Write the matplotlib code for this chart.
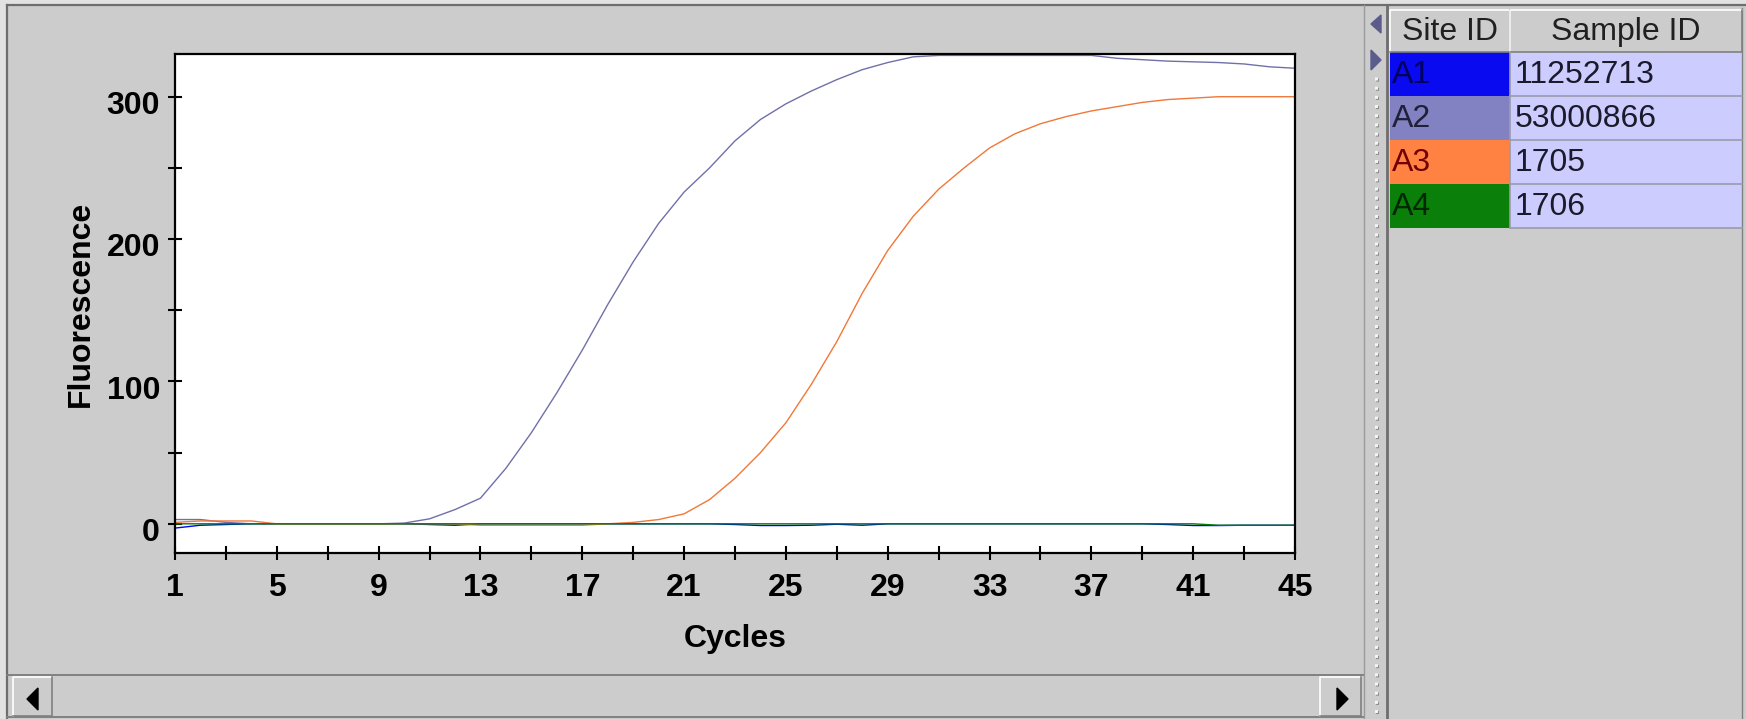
import matplotlib
matplotlib.use("Agg")
import matplotlib.pyplot as plt
import matplotlib.transforms as mtransforms
from matplotlib.patches import Rectangle, Polygon

# data
cycles = list(range(1, 46))
a1_values = [-3, -1, -0.5, 0, 0, 0, 0, 0, 0, 0, -0.5, -1, 0, 0, 0, 0, 0, 0, 0, 0,
             0, 0, -0.5, -1.2, -1.2, -1, -0.3, -1, 0, 0, 0, 0, 0, 0, 0, 0, 0, 0, 0,
             -0.5, -1.2, -1.2, -1, -1, -1]
a2_values = [3, 3, 1, 0, 0, 0, 0, 0, 0, 0.5, 3.5, 10, 18, 39, 64, 92, 122, 154, 184, 211,
             233, 250, 269, 284, 295, 304, 312, 319, 324, 328, 329, 329, 329, 329, 329,
             329, 329, 327, 326, 325, 324.5, 324, 323, 321, 320]
a3_values = [1, 2, 2, 2, 0, 0, 0, 0, 0, 0, 0, 0, -1, -1, -1, -1, -1, 0, 1, 3,
             7, 17, 32, 50, 71, 98, 128, 162, 192, 216, 235, 250, 264, 274, 281, 286,
             290, 293, 296, 298, 299, 300, 300, 300, 300]
a4_values = [0] * 41 + [-1, -1, -1, -1]

site_ids = ["A1", "A2", "A3", "A4"]
sample_ids = ["11252713", "53000866", "1705", "1706"]
site_colors = ["#0a0af0", "#8282c2", "#ff8242", "#0a800a"]
site_text_colors = ["#000060", "#20203a", "#700000", "#002800"]
line_colors = ["#0000ff", "#7070a8", "#f07838", "#008000"]

x_ticks = list(range(1, 46, 4))
x_minor = list(range(1, 46, 2))
y_ticks = [0, 100, 200, 300]
y_minor = [50, 150, 250]

W, H = 1746, 719
GRAY = "#cccccc"
DARK = "#808080"

plt.rcParams['font.family'] = ['Liberation Sans', 'DejaVu Sans']

fig = plt.figure(figsize=(W / 100, H / 100), dpi=100)
fig.patch.set_facecolor(GRAY)

# window chrome, drawn in pixel coordinates
bg = fig.add_axes([0, 0, 1, 1], zorder=0)
bg.set_xlim(0, W)
bg.set_ylim(H, 0)
bg.axis('off')


def raised(x0, y0, x1, y1, face=GRAY):
    bg.add_patch(Rectangle((x0, y0), x1 - x0, y1 - y0, facecolor=face, edgecolor='none'))
    bg.plot([x0, x0, x1], [y1, y0, y0], color='white', lw=1.2)
    bg.plot([x0, x1, x1], [y1, y1, y0], color=DARK, lw=1.2)


# light edge outside the panels
bg.add_patch(Rectangle((0, 0), W, 4, facecolor='#e2e2e2', edgecolor='none'))
bg.add_patch(Rectangle((0, 0), 6, H, facecolor='#e2e2e2', edgecolor='none'))
bg.plot([7, W], [5, 5], color='#6e6e6e', lw=1.6)
bg.plot([7, 7], [5, H], color='#6e6e6e', lw=1.6)

# horizontal scrollbar
bg.plot([7, 1364], [675, 675], color=DARK, lw=1.4)
bg.plot([7, 1364], [717, 717], color=DARK, lw=1.4)
raised(13, 677, 52, 716)
bg.add_patch(Polygon([(27, 699), (38, 688), (38, 710)], closed=True, color='black'))
raised(1320, 677, 1361, 716)
bg.add_patch(Polygon([(1348, 699), (1337, 688), (1337, 710)], closed=True, color='black'))

# splitter between plot and table
bg.plot([1364, 1364], [5, H], color='#9a9a9a', lw=1.0)
bg.plot([1377, 1377], [78, H], color='#8a8a8a', lw=2.2, ls=(0, (1, 2)))
bg.plot([1376, 1376], [77, H], color='#f4f4f4', lw=2.2, ls=(0, (1, 2)))
bg.add_patch(Polygon([(1371, 24), (1381, 15), (1381, 33)], closed=True, color='#5c5c8c'))
bg.add_patch(Polygon([(1381, 60), (1371, 50), (1371, 70)], closed=True, color='#5c5c8c'))
bg.plot([1387, 1387], [5, H], color='#6e6e6e', lw=2.0)
bg.plot([1742, 1742], [8, H], color=DARK, lw=1.0)

# table of sites and samples
col_x = [1390, 1510, 1742]
row_y = [52, 96, 140, 184, 228]
raised(col_x[0], 10, col_x[1], 52)
raised(col_x[1], 10, col_x[2], 52)
bg.text((col_x[0] + col_x[1]) / 2, 32, "Site ID", fontsize=23, ha='center', va='center',
        color='#202020')
bg.text((col_x[1] + col_x[2]) / 2, 32, "Sample ID", fontsize=23, ha='center', va='center',
        color='#202020')
for i in range(len(site_ids)):
    y0, y1 = row_y[i], row_y[i + 1]
    bg.add_patch(Rectangle((col_x[0], y0), col_x[1] - col_x[0], y1 - y0,
                           facecolor=site_colors[i], edgecolor='none'))
    bg.add_patch(Rectangle((col_x[1], y0), col_x[2] - col_x[1], y1 - y0,
                           facecolor='#ccccff', edgecolor='none'))
    bg.plot([col_x[1], col_x[2]], [y1, y1], color='#9a9aaa', lw=1.2)
    bg.plot([col_x[1], col_x[1]], [y0, y1], color='#9a9aaa', lw=1.2)
    bg.text(col_x[0] + 2, (y0 + y1) / 2 + 1, site_ids[i], fontsize=23, ha='left',
            va='center', color=site_text_colors[i])
    bg.text(col_x[1] + 5, (y0 + y1) / 2 + 1, sample_ids[i], fontsize=23, ha='left',
            va='center', color='#1a1a2a')

# the plot itself
ax = fig.add_axes([175 / W, (H - 553) / H, 1120 / W, 499 / H], zorder=2)
ax.set_facecolor('white')
for vals, col in zip([a1_values, a2_values, a3_values, a4_values], line_colors):
    ax.plot(cycles, vals, color=col, lw=1.0)

ax.set_xlim(1, 45)
ax.set_ylim(-20.5, 330)
ax.set_xticks(x_ticks)
ax.set_xticks(x_minor, minor=True)
ax.set_yticks(y_ticks)
ax.set_yticks(y_minor, minor=True)
ax.tick_params(which='both', direction='inout', length=9.5, width=1.5, color='black')
ax.tick_params(axis='x', pad=10, labelsize=23)
ax.tick_params(axis='y', pad=6, labelsize=23)
# y labels sit a little below their ticks in the original
shift = mtransforms.ScaledTranslation(0, -4 / 72, fig.dpi_scale_trans)
for lab in ax.get_yticklabels():
    lab.set_transform(lab.get_transform() + shift)
for lab in ax.get_xticklabels() + ax.get_yticklabels():
    lab.set_fontweight('bold')
for sp in ax.spines.values():
    sp.set_linewidth(1.6)
    sp.set_color('black')

ax.set_xlabel("Cycles", fontsize=23, fontweight='bold')
ax.xaxis.set_label_coords(0.5, -0.143)
ax.set_ylabel("Fluorescence", fontsize=23, fontweight='bold', va='center')
ax.yaxis.set_label_coords(-0.084, 0.5)

fig.savefig("out.png", dpi=100, facecolor=fig.get_facecolor())
